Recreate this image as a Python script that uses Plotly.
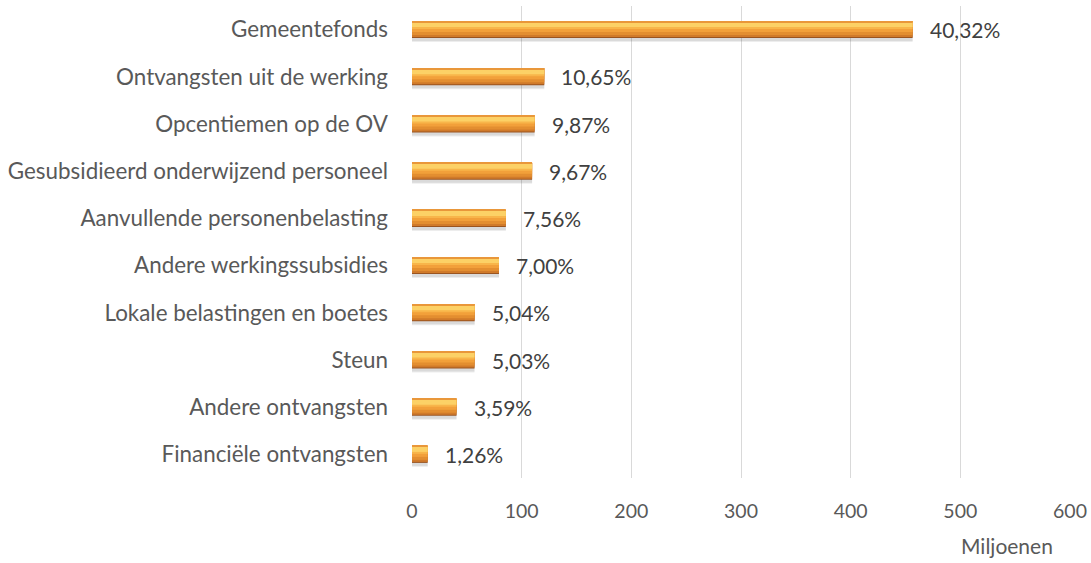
import plotly.graph_objects as go

categories = [
    "Gemeentefonds",
    "Ontvangsten uit de werking",
    "Opcentiemen op de OV",
    "Gesubsidieerd onderwijzend personeel",
    "Aanvullende personenbelasting",
    "Andere werkingssubsidies",
    "Lokale belastingen en boetes",
    "Steun",
    "Andere ontvangsten",
    "Financiële ontvangsten",
]
values = [456.5, 120.6, 111.8, 109.5, 85.6, 79.3, 57.1, 57.0, 40.6, 14.3]
labels = ["40,32%", "10,65%", "9,87%", "9,67%", "7,56%", "7,00%", "5,04%", "5,03%", "3,59%", "1,26%"]
x_ticks = [0, 100, 200, 300, 400, 500, 600]

FONT = "Lato"
PX = 47.2           # pixels per category band
BAR_PX = 17.0
o0 = -BAR_PX / 2 / PX

# bevel bands (top px, height px, colour) – styling only
bands = [
    (0, 17, "#9A5420"),
    (0, 16, "#D07A2A"),
    (0, 14, "#E38E30"),
    (0, 11, "#F2A03A"),
    (0, 8, "#F8B54A"),
    (1, 5, "#FCD166"),
    (0, 1, "#E9973A"),
]

fig = go.Figure()
# soft shadow
for top, h, col in [(15, 6, "rgba(80,80,80,0.10)"), (16, 4, "rgba(80,80,80,0.12)")]:
    fig.add_trace(go.Bar(y=categories, x=values, orientation="h", width=h / PX, offset=o0 + top / PX,
                         marker=dict(color=col, line=dict(width=0)),
                         hoverinfo="skip", showlegend=False))
for top, h, col in bands:
    fig.add_trace(go.Bar(y=categories, x=values, orientation="h", width=h / PX, offset=o0 + top / PX,
                         marker=dict(color=col, line=dict(width=0)),
                         hoverinfo="skip", showlegend=False))

for c, v, t in zip(categories, values, labels):
    fig.add_annotation(x=v, y=c, text=t, showarrow=False, xanchor="left", xshift=15,
                       font=dict(family=FONT, size=21, color="#404040"))

fig.add_annotation(x=(1007 - 412) / 658, y=0, xref="paper", yref="paper", text="Miljoenen",
                   showarrow=False, xanchor="center", yanchor="top", yshift=-53,
                   font=dict(family=FONT, size=21, color="#595959"))

fig.update_layout(
    width=1091, height=563,
    barmode="overlay",
    paper_bgcolor="white", plot_bgcolor="white",
    margin=dict(l=412, r=21, t=6, b=85),
    xaxis=dict(range=[0, 600], tickvals=x_ticks, ticktext=[str(v) for v in x_ticks],
               showgrid=True, gridcolor="#D9D9D9", gridwidth=1, zeroline=False,
               showline=False, ticks="", tickfont=dict(family=FONT, size=19.5, color="#595959"),
               ticklabelstandoff=19, automargin=False),
    yaxis=dict(autorange="reversed", showgrid=False, showline=False, ticks="",
               tickfont=dict(family=FONT, size=22.4, color="#595959"), ticklabelstandoff=23,
               automargin=False),
)

fig.write_html("out.html", config={"displayModeBar": False},
               post_script="document.body.style.margin='0';")
